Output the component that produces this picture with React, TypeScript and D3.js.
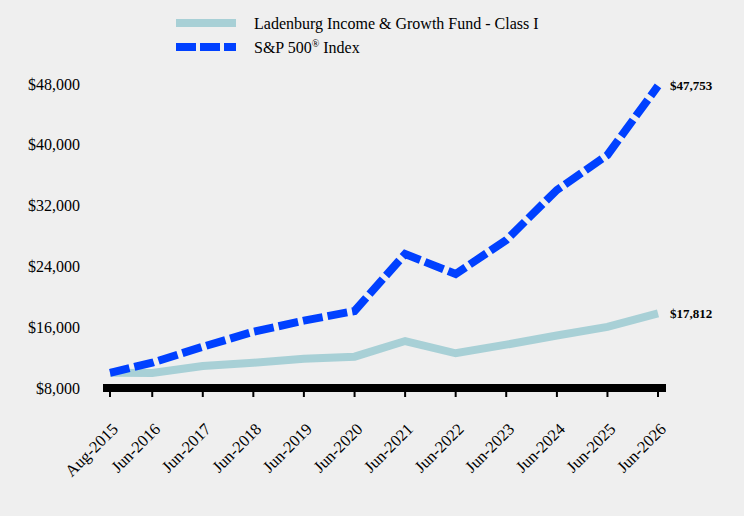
import React from "react";
import * as d3 from "d3";

const dates = ["2015-08", "2016-06", "2017-06", "2018-06", "2019-06", "2020-06", "2021-06", "2022-06", "2023-06", "2024-06", "2025-06", "2026-06"];
const tickLabels = ["Aug-2015", "Jun-2016", "Jun-2017", "Jun-2018", "Jun-2019", "Jun-2020", "Jun-2021", "Jun-2022", "Jun-2023", "Jun-2024", "Jun-2025", "Jun-2026"];
const fundValues = [10000, 9980, 10890, 11330, 11860, 12120, 14180, 12570, 13700, 14900, 16050, 17812];
const spValues = [10000, 11330, 13430, 15400, 16860, 18130, 25630, 23000, 27470, 34050, 38660, 47753];
const yTicks = [8000, 16000, 24000, 32000, 40000, 48000];
const fundName = "Ladenburg Income & Growth Fund - Class I";
const fundColor = "#a8d0d6";
const spColor = "#0040ff";

export default function App() {
  const W = 744, H = 516;
  const parse = d3.timeParse("%Y-%m");
  const dts = dates.map((d) => parse(d) as Date);
  const x = d3.scaleTime().domain([dts[0], dts[dts.length - 1]]).range([110, 658]);
  const y = d3.scaleLinear().domain([8000, 48000]).range([388, 84]);
  const line = d3.line<number>().x((_, i) => x(dts[i])).y((v) => y(v));
  const fmt = (v: number) => "$" + d3.format(",")(v);
  const font = "'Liberation Serif', 'Times New Roman', serif";
  return (
    <svg width={W} height={H} style={{ position: "absolute", left: 0, top: 0 }} fontFamily={font}>
      <rect width={W} height={H} fill="#efefef" />
      {/* legend */}
      <line x1={176} x2={236} y1={23} y2={23} stroke={fundColor} strokeWidth={8} />
      <text x={254} y={29} fontSize={16} fill="#000">{fundName}</text>
      <line x1={176} x2={236} y1={47} y2={47} stroke={spColor} strokeWidth={8} strokeDasharray="20,4" />
      <text x={254} y={53} fontSize={16} fill="#000">
        S&amp;P 500<tspan fontSize={10} dy={-6}>®</tspan><tspan dy={6}> Index</tspan>
      </text>
      {/* y axis labels */}
      {yTicks.map((t) => (
        <text key={t} x={80} y={y(t)} dy="0.35em" textAnchor="end" fontSize={16} fill="#000">{fmt(t)}</text>
      ))}
      {/* lines */}
      <path d={line(fundValues) || ""} fill="none" stroke={fundColor} strokeWidth={8} strokeLinejoin="miter" />
      <path d={line(spValues) || ""} fill="none" stroke={spColor} strokeWidth={8} strokeDasharray="20,5" strokeLinejoin="miter" />
      {/* x axis */}
      <rect x={103} y={384} width={563} height={8} fill="#000" />
      {dts.map((d, i) => (
        <g key={i}>
          <line x1={x(d)} x2={x(d)} y1={390} y2={397} stroke="#000" strokeWidth={2} />
          <text transform={`translate(${x(d) + 5},${426}) rotate(-45)`} textAnchor="end" dy="0.35em" fontSize={16.5} fill="#000">{tickLabels[i]}</text>
        </g>
      ))}
      {/* end labels */}
      <text x={670} y={y(spValues[spValues.length - 1])} dy="0.35em" fontSize={13} fontWeight="bold" fill="#000">{fmt(spValues[spValues.length - 1])}</text>
      <text x={670} y={y(fundValues[fundValues.length - 1])} dy="0.35em" fontSize={13} fontWeight="bold" fill="#000">{fmt(fundValues[fundValues.length - 1])}</text>
    </svg>
  );
}
